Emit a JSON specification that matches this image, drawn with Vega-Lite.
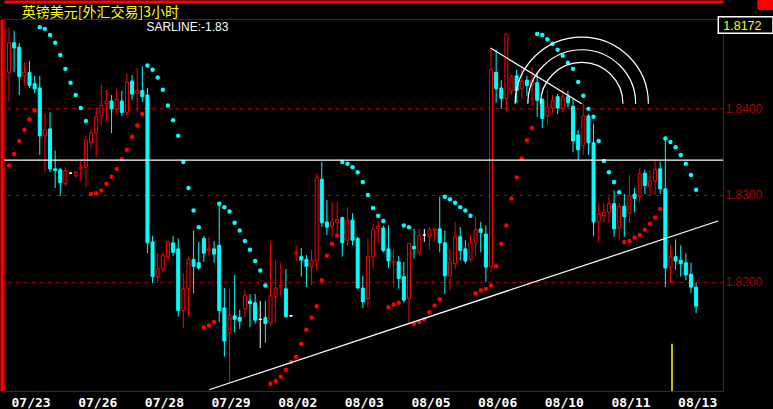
{
  "$schema": "https://vega.github.io/schema/vega-lite/v6.json",
  "width": 719,
  "height": 372,
  "autosize": {"type": "none"},
  "padding": {"left": 4, "top": 19, "right": 50, "bottom": 18},
  "background": "#000000",
  "config": {
    "view": {"stroke": "#a00000", "strokeWidth": 1},
    "axis": {"grid": false, "ticks": false, "domain": false}
  },
  "datasets": {
    "bars": [
      {"i":0,"o":1.8441,"h":1.8493,"l":1.8407,"c":1.8475,"t":"up","s":1.8334,"st":"up"},
      {"i":1,"o":1.8475,"h":1.8489,"l":1.8441,"c":1.8469,"t":"down","s":1.8347,"st":"up"},
      {"i":2,"o":1.8470,"h":1.8475,"l":1.8415,"c":1.8436,"t":"down","s":1.8362,"st":"up"},
      {"i":3,"o":1.8437,"h":1.8453,"l":1.8426,"c":1.8441,"t":"up","s":1.8375,"st":"up"},
      {"i":4,"o":1.8441,"h":1.8454,"l":1.8423,"c":1.8426,"t":"down","s":1.8387,"st":"up"},
      {"i":5,"o":1.8428,"h":1.8437,"l":1.8417,"c":1.8422,"t":"down","s":1.8397,"st":"up"},
      {"i":6,"o":1.8423,"h":1.8437,"l":1.8346,"c":1.8368,"t":"down","s":1.8493,"st":"down"},
      {"i":7,"o":1.8368,"h":1.8394,"l":1.8326,"c":1.8375,"t":"up","s":1.8491,"st":"down"},
      {"i":8,"o":1.8376,"h":1.8395,"l":1.8326,"c":1.8330,"t":"down","s":1.8484,"st":"down"},
      {"i":9,"o":1.8330,"h":1.8351,"l":1.8308,"c":1.8328,"t":"down","s":1.8475,"st":"down"},
      {"i":10,"o":1.8329,"h":1.8331,"l":1.8299,"c":1.8314,"t":"down","s":1.8461,"st":"down"},
      {"i":11,"o":1.8313,"h":1.8332,"l":1.8310,"c":1.8328,"t":"up","s":1.8445,"st":"down"},
      {"i":12,"o":1.8325,"h":1.8326,"l":1.8324,"c":1.8325,"t":"doji","s":1.8429,"st":"down"},
      {"i":13,"o":1.8322,"h":1.8328,"l":1.8320,"c":1.8326,"t":"up","s":1.8415,"st":"down"},
      {"i":14,"o":1.8330,"h":1.8340,"l":1.8315,"c":1.8332,"t":"up","s":1.8400,"st":"down"},
      {"i":15,"o":1.8332,"h":1.8368,"l":1.8309,"c":1.8363,"t":"up","s":1.8385,"st":"down"},
      {"i":16,"o":1.8360,"h":1.8376,"l":1.8353,"c":1.8371,"t":"up","s":1.8301,"st":"up"},
      {"i":17,"o":1.8371,"h":1.8400,"l":1.8344,"c":1.8390,"t":"up","s":1.8302,"st":"up"},
      {"i":18,"o":1.8391,"h":1.8428,"l":1.8380,"c":1.8403,"t":"up","s":1.8305,"st":"up"},
      {"i":19,"o":1.8405,"h":1.8421,"l":1.8384,"c":1.8408,"t":"up","s":1.8313,"st":"up"},
      {"i":20,"o":1.8408,"h":1.8415,"l":1.8371,"c":1.8399,"t":"down","s":1.8321,"st":"up"},
      {"i":21,"o":1.8399,"h":1.8422,"l":1.8394,"c":1.8410,"t":"up","s":1.8330,"st":"up"},
      {"i":22,"o":1.8408,"h":1.8420,"l":1.8391,"c":1.8395,"t":"down","s":1.8341,"st":"up"},
      {"i":23,"o":1.8395,"h":1.8440,"l":1.8390,"c":1.8430,"t":"up","s":1.8352,"st":"up"},
      {"i":24,"o":1.8431,"h":1.8438,"l":1.8409,"c":1.8416,"t":"down","s":1.8367,"st":"up"},
      {"i":25,"o":1.8417,"h":1.8446,"l":1.8395,"c":1.8420,"t":"up","s":1.8380,"st":"up"},
      {"i":26,"o":1.8420,"h":1.8448,"l":1.8407,"c":1.8413,"t":"down","s":1.8393,"st":"up"},
      {"i":27,"o":1.8415,"h":1.8423,"l":1.8233,"c":1.8245,"t":"down","s":1.8449,"st":"down"},
      {"i":28,"o":1.8246,"h":1.8253,"l":1.8199,"c":1.8206,"t":"down","s":1.8444,"st":"down"},
      {"i":29,"o":1.8206,"h":1.8233,"l":1.8199,"c":1.8215,"t":"up","s":1.8435,"st":"down"},
      {"i":30,"o":1.8215,"h":1.8234,"l":1.8211,"c":1.8231,"t":"up","s":1.8421,"st":"down"},
      {"i":31,"o":1.8229,"h":1.8248,"l":1.8224,"c":1.8246,"t":"up","s":1.8403,"st":"down"},
      {"i":32,"o":1.8245,"h":1.8253,"l":1.8230,"c":1.8234,"t":"down","s":1.8386,"st":"down"},
      {"i":33,"o":1.8238,"h":1.8250,"l":1.8160,"c":1.8167,"t":"down","s":1.8368,"st":"down"},
      {"i":34,"o":1.8167,"h":1.8210,"l":1.8147,"c":1.8192,"t":"up","s":1.8338,"st":"down"},
      {"i":35,"o":1.8192,"h":1.8229,"l":1.8160,"c":1.8226,"t":"up","s":1.8308,"st":"down"},
      {"i":36,"o":1.8226,"h":1.8259,"l":1.8187,"c":1.8218,"t":"down","s":1.8282,"st":"down"},
      {"i":37,"o":1.8222,"h":1.8246,"l":1.8214,"c":1.8216,"t":"down","s":1.8263,"st":"down"},
      {"i":38,"o":1.8250,"h":1.8253,"l":1.8223,"c":1.8233,"t":"down","s":1.8148,"st":"up"},
      {"i":39,"o":1.8236,"h":1.8252,"l":1.8230,"c":1.8238,"t":"up","s":1.8150,"st":"up"},
      {"i":40,"o":1.8238,"h":1.8247,"l":1.8222,"c":1.8232,"t":"down","s":1.8154,"st":"up"},
      {"i":41,"o":1.8242,"h":1.8290,"l":1.8154,"c":1.8167,"t":"down","s":1.8290,"st":"down"},
      {"i":42,"o":1.8170,"h":1.8193,"l":1.8114,"c":1.8132,"t":"down","s":1.8286,"st":"down"},
      {"i":43,"o":1.8141,"h":1.8192,"l":1.8084,"c":1.8162,"t":"up","s":1.8281,"st":"down"},
      {"i":44,"o":1.8161,"h":1.8208,"l":1.8142,"c":1.8157,"t":"down","s":1.8268,"st":"down"},
      {"i":45,"o":1.8159,"h":1.8168,"l":1.8146,"c":1.8155,"t":"down","s":1.8259,"st":"down"},
      {"i":46,"o":1.8169,"h":1.8191,"l":1.8159,"c":1.8184,"t":"up","s":1.8247,"st":"down"},
      {"i":47,"o":1.8178,"h":1.8186,"l":1.8148,"c":1.8175,"t":"down","s":1.8237,"st":"down"},
      {"i":48,"o":1.8176,"h":1.8186,"l":1.8152,"c":1.8156,"t":"down","s":1.8224,"st":"down"},
      {"i":49,"o":1.8157,"h":1.8178,"l":1.8124,"c":1.8157,"t":"doji","s":1.8213,"st":"down"},
      {"i":50,"o":1.8159,"h":1.8178,"l":1.8130,"c":1.8152,"t":"down","s":1.8196,"st":"down"},
      {"i":51,"o":1.8153,"h":1.8246,"l":1.8150,"c":1.8184,"t":"up","s":1.8083,"st":"up"},
      {"i":52,"o":1.8183,"h":1.8225,"l":1.8153,"c":1.8193,"t":"up","s":1.8086,"st":"up"},
      {"i":53,"o":1.8194,"h":1.8222,"l":1.8183,"c":1.8196,"t":"up","s":1.8091,"st":"up"},
      {"i":54,"o":1.8192,"h":1.8215,"l":1.8159,"c":1.8160,"t":"down","s":1.8099,"st":"up"},
      {"i":55,"o":1.8161,"h":1.8162,"l":1.8160,"c":1.8161,"t":"doji","s":1.8108,"st":"up"},
      {"i":56,"o":1.8233,"h":1.8242,"l":1.8224,"c":1.8234,"t":"up","s":1.8114,"st":"up"},
      {"i":57,"o":1.8229,"h":1.8239,"l":1.8206,"c":1.8225,"t":"down","s":1.8129,"st":"up"},
      {"i":58,"o":1.8226,"h":1.8231,"l":1.8194,"c":1.8218,"t":"down","s":1.8145,"st":"up"},
      {"i":59,"o":1.8217,"h":1.8237,"l":1.8196,"c":1.8225,"t":"up","s":1.8159,"st":"up"},
      {"i":60,"o":1.8224,"h":1.8324,"l":1.8214,"c":1.8320,"t":"up","s":1.8172,"st":"up"},
      {"i":61,"o":1.8318,"h":1.8338,"l":1.8263,"c":1.8268,"t":"down","s":1.8202,"st":"up"},
      {"i":62,"o":1.8269,"h":1.8294,"l":1.8254,"c":1.8263,"t":"down","s":1.8230,"st":"up"},
      {"i":63,"o":1.8264,"h":1.8292,"l":1.8252,"c":1.8269,"t":"up","s":1.8244,"st":"up"},
      {"i":64,"o":1.8268,"h":1.8292,"l":1.8252,"c":1.8272,"t":"up","s":1.8253,"st":"up"},
      {"i":65,"o":1.8274,"h":1.8275,"l":1.8229,"c":1.8245,"t":"down","s":1.8338,"st":"down"},
      {"i":66,"o":1.8248,"h":1.8286,"l":1.8242,"c":1.8271,"t":"up","s":1.8336,"st":"down"},
      {"i":67,"o":1.8271,"h":1.8279,"l":1.8242,"c":1.8248,"t":"down","s":1.8332,"st":"down"},
      {"i":68,"o":1.8250,"h":1.8252,"l":1.8192,"c":1.8193,"t":"down","s":1.8326,"st":"down"},
      {"i":69,"o":1.8193,"h":1.8207,"l":1.8170,"c":1.8177,"t":"down","s":1.8315,"st":"down"},
      {"i":70,"o":1.8181,"h":1.8250,"l":1.8171,"c":1.8229,"t":"up","s":1.8300,"st":"down"},
      {"i":71,"o":1.8229,"h":1.8267,"l":1.8215,"c":1.8260,"t":"up","s":1.8285,"st":"down"},
      {"i":72,"o":1.8261,"h":1.8270,"l":1.8245,"c":1.8264,"t":"up","s":1.8276,"st":"down"},
      {"i":73,"o":1.8262,"h":1.8265,"l":1.8234,"c":1.8236,"t":"down","s":1.8270,"st":"down"},
      {"i":74,"o":1.8238,"h":1.8265,"l":1.8216,"c":1.8224,"t":"down","s":1.8171,"st":"up"},
      {"i":75,"o":1.8222,"h":1.8237,"l":1.8194,"c":1.8224,"t":"up","s":1.8174,"st":"up"},
      {"i":76,"o":1.8223,"h":1.8230,"l":1.8192,"c":1.8204,"t":"down","s":1.8176,"st":"up"},
      {"i":77,"o":1.8206,"h":1.8223,"l":1.8176,"c":1.8179,"t":"down","s":1.8265,"st":"down"},
      {"i":78,"o":1.8181,"h":1.8245,"l":1.8152,"c":1.8244,"t":"up","s":1.8263,"st":"down"},
      {"i":79,"o":1.8241,"h":1.8261,"l":1.8227,"c":1.8238,"t":"down","s":1.8152,"st":"up"},
      {"i":80,"o":1.8234,"h":1.8261,"l":1.8230,"c":1.8253,"t":"up","s":1.8154,"st":"up"},
      {"i":81,"o":1.8254,"h":1.8261,"l":1.8246,"c":1.8254,"t":"doji","s":1.8157,"st":"up"},
      {"i":82,"o":1.8252,"h":1.8263,"l":1.8237,"c":1.8260,"t":"up","s":1.8165,"st":"up"},
      {"i":83,"o":1.8259,"h":1.8262,"l":1.8247,"c":1.8261,"t":"up","s":1.8173,"st":"up"},
      {"i":84,"o":1.8261,"h":1.8298,"l":1.8234,"c":1.8245,"t":"down","s":1.8180,"st":"up"},
      {"i":85,"o":1.8245,"h":1.8259,"l":1.8186,"c":1.8207,"t":"down","s":1.8298,"st":"down"},
      {"i":86,"o":1.8207,"h":1.8238,"l":1.8191,"c":1.8222,"t":"up","s":1.8295,"st":"down"},
      {"i":87,"o":1.8221,"h":1.8269,"l":1.8214,"c":1.8252,"t":"up","s":1.8291,"st":"down"},
      {"i":88,"o":1.8252,"h":1.8263,"l":1.8225,"c":1.8236,"t":"down","s":1.8286,"st":"down"},
      {"i":89,"o":1.8238,"h":1.8248,"l":1.8221,"c":1.8224,"t":"down","s":1.8282,"st":"down"},
      {"i":90,"o":1.8226,"h":1.8254,"l":1.8223,"c":1.8245,"t":"up","s":1.8276,"st":"down"},
      {"i":91,"o":1.8245,"h":1.8275,"l":1.8229,"c":1.8260,"t":"up","s":1.8187,"st":"up"},
      {"i":92,"o":1.8261,"h":1.8269,"l":1.8234,"c":1.8257,"t":"down","s":1.8190,"st":"up"},
      {"i":93,"o":1.8255,"h":1.8265,"l":1.8200,"c":1.8217,"t":"down","s":1.8192,"st":"up"},
      {"i":94,"o":1.8218,"h":1.8469,"l":1.8211,"c":1.8444,"t":"up","s":1.8196,"st":"up"},
      {"i":95,"o":1.8441,"h":1.8467,"l":1.8406,"c":1.8422,"t":"down","s":1.8218,"st":"up"},
      {"i":96,"o":1.8423,"h":1.8432,"l":1.8399,"c":1.8411,"t":"down","s":1.8244,"st":"up"},
      {"i":97,"o":1.8411,"h":1.8486,"l":1.8395,"c":1.8485,"t":"up","s":1.8265,"st":"up"},
      {"i":98,"o":1.8420,"h":1.8438,"l":1.8415,"c":1.8436,"t":"up","s":1.8296,"st":"up"},
      {"i":99,"o":1.8437,"h":1.8444,"l":1.8406,"c":1.8420,"t":"down","s":1.8320,"st":"up"},
      {"i":100,"o":1.8422,"h":1.8446,"l":1.8411,"c":1.8431,"t":"up","s":1.8342,"st":"up"},
      {"i":101,"o":1.8432,"h":1.8437,"l":1.8414,"c":1.8426,"t":"down","s":1.8363,"st":"up"},
      {"i":102,"o":1.8426,"h":1.8447,"l":1.8402,"c":1.8432,"t":"up","s":1.8377,"st":"up"},
      {"i":103,"o":1.8429,"h":1.8441,"l":1.8390,"c":1.8409,"t":"down","s":1.8485,"st":"down"},
      {"i":104,"o":1.8410,"h":1.8411,"l":1.8377,"c":1.8388,"t":"down","s":1.8484,"st":"down"},
      {"i":105,"o":1.8391,"h":1.8421,"l":1.8380,"c":1.8401,"t":"up","s":1.8479,"st":"down"},
      {"i":106,"o":1.8400,"h":1.8415,"l":1.8394,"c":1.8409,"t":"up","s":1.8474,"st":"down"},
      {"i":107,"o":1.8413,"h":1.8416,"l":1.8393,"c":1.8400,"t":"down","s":1.8467,"st":"down"},
      {"i":108,"o":1.8400,"h":1.8423,"l":1.8395,"c":1.8413,"t":"up","s":1.8460,"st":"down"},
      {"i":109,"o":1.8413,"h":1.8420,"l":1.8401,"c":1.8406,"t":"down","s":1.8452,"st":"down"},
      {"i":110,"o":1.8402,"h":1.8411,"l":1.8349,"c":1.8362,"t":"down","s":1.8445,"st":"down"},
      {"i":111,"o":1.8369,"h":1.8375,"l":1.8340,"c":1.8352,"t":"down","s":1.8430,"st":"down"},
      {"i":112,"o":1.8357,"h":1.8406,"l":1.8346,"c":1.8391,"t":"up","s":1.8414,"st":"down"},
      {"i":113,"o":1.8391,"h":1.8393,"l":1.8346,"c":1.8360,"t":"down","s":1.8399,"st":"down"},
      {"i":114,"o":1.8360,"h":1.8382,"l":1.8253,"c":1.8269,"t":"down","s":1.8390,"st":"down"},
      {"i":115,"o":1.8269,"h":1.8291,"l":1.8245,"c":1.8278,"t":"up","s":1.8362,"st":"down"},
      {"i":116,"o":1.8276,"h":1.8291,"l":1.8268,"c":1.8280,"t":"up","s":1.8339,"st":"down"},
      {"i":117,"o":1.8280,"h":1.8298,"l":1.8268,"c":1.8290,"t":"up","s":1.8326,"st":"down"},
      {"i":118,"o":1.8290,"h":1.8305,"l":1.8252,"c":1.8261,"t":"down","s":1.8315,"st":"down"},
      {"i":119,"o":1.8262,"h":1.8291,"l":1.8249,"c":1.8287,"t":"up","s":1.8303,"st":"down"},
      {"i":120,"o":1.8287,"h":1.8301,"l":1.8252,"c":1.8275,"t":"down","s":1.8246,"st":"up"},
      {"i":121,"o":1.8279,"h":1.8323,"l":1.8268,"c":1.8299,"t":"up","s":1.8247,"st":"up"},
      {"i":122,"o":1.8301,"h":1.8308,"l":1.8280,"c":1.8296,"t":"down","s":1.8251,"st":"up"},
      {"i":123,"o":1.8298,"h":1.8331,"l":1.8291,"c":1.8324,"t":"up","s":1.8254,"st":"up"},
      {"i":124,"o":1.8325,"h":1.8329,"l":1.8301,"c":1.8311,"t":"down","s":1.8260,"st":"up"},
      {"i":125,"o":1.8310,"h":1.8329,"l":1.8300,"c":1.8316,"t":"up","s":1.8267,"st":"up"},
      {"i":126,"o":1.8316,"h":1.8341,"l":1.8300,"c":1.8329,"t":"up","s":1.8274,"st":"up"},
      {"i":127,"o":1.8330,"h":1.8338,"l":1.8301,"c":1.8307,"t":"down","s":1.8284,"st":"up"},
      {"i":128,"o":1.8307,"h":1.8365,"l":1.8194,"c":1.8216,"t":"down","s":1.8365,"st":"down"},
      {"i":129,"o":1.8217,"h":1.8242,"l":1.8199,"c":1.8229,"t":"up","s":1.8361,"st":"down"},
      {"i":130,"o":1.8229,"h":1.8249,"l":1.8214,"c":1.8224,"t":"down","s":1.8355,"st":"down"},
      {"i":131,"o":1.8225,"h":1.8242,"l":1.8206,"c":1.8221,"t":"down","s":1.8346,"st":"down"},
      {"i":132,"o":1.8222,"h":1.8233,"l":1.8202,"c":1.8208,"t":"down","s":1.8336,"st":"down"},
      {"i":133,"o":1.8209,"h":1.8222,"l":1.8187,"c":1.8194,"t":"down","s":1.8323,"st":"down"},
      {"i":134,"o":1.8194,"h":1.8199,"l":1.8164,"c":1.8172,"t":"down","s":1.8306,"st":"down"}
    ],
    "lines": [
      {"name":"support","i":39.04,"p":1.8076},
      {"name":"support","i":138.27,"p":1.8270},
      {"name":"fan","i":93.9,"p":1.8469},
      {"name":"fan","i":111.7,"p":1.8405}
    ],
    "arcs": [
      {"i":111.7,"p":1.8405,"ratio":0.382},
      {"i":111.7,"p":1.8405,"ratio":0.5},
      {"i":111.7,"p":1.8405,"ratio":0.618}
    ]
  },
  "layer": [
    {
      "data": {"name": "bars"},
      "mark": {"type": "rule", "strokeWidth": 1},
      "encoding": {
        "x": {
          "field": "i", "type": "quantitative",
          "scale": {"domain": [0, 138.27], "nice": false, "zero": false},
          "axis": {
            "orient": "bottom",
            "values": [0, 13, 26, 39, 52, 65, 78, 91, 104, 117, 130],
            "labelExpr": "['07/23','07/26','07/28','07/29','08/02','08/03','08/05','08/06','08/10','08/11','08/13'][round(datum.value/13)]",
            "labelAlign": "left", "labelOffset": 2, "labelBaseline": "top",
            "labelColor": "#ffffff", "labelFont": "DejaVu Sans Mono", "labelFontWeight": "bold",
            "labelFontSize": 13, "labelPadding": 5, "labelOverlap": false, "labelFlush": false,
            "ticks": false, "domain": false, "grid": false, "title": null
          }
        },
        "y": {
          "field": "h", "type": "quantitative",
          "scale": {"domain": [1.807455, 1.850235], "nice": false, "zero": false},
          "axis": {
            "orient": "right", "values": [1.82, 1.83, 1.84], "format": ".4f",
            "labelColor": "#b00000", "labelFont": "Liberation Sans", "labelFontSize": 12,
            "labelPadding": 2, "labelBaseline": "middle",
            "ticks": false, "domain": false, "grid": true,
            "gridColor": "#b00000", "gridDash": [4, 4], "gridWidth": 1, "title": null
          }
        },
        "y2": {"field": "l"},
        "color": {
          "field": "t", "type": "nominal",
          "scale": {"domain": ["up", "down", "doji"], "range": ["#ff0000", "#00ffff", "#ffffff"]},
          "legend": null
        }
      }
    },
    {
      "data": {"name": "bars"},
      "mark": {"type": "bar", "width": 3, "strokeWidth": 1},
      "encoding": {
        "x": {
          "field": "i", "type": "quantitative",
          "axis": {"orient": "top", "offset": 17.5, "domain": true, "domainColor": "#ff0000", "domainWidth": 3, "labels": false, "ticks": false, "grid": false, "title": null}
        },
        "y": {
          "field": "o", "type": "quantitative",
          "axis": {"orient": "left", "offset": 2.5, "domain": true, "domainColor": "#ff0000", "domainWidth": 3, "labels": false, "ticks": false, "grid": false, "title": null}
        },
        "y2": {"field": "c"},
        "fill": {
          "field": "t", "type": "nominal",
          "scale": {"domain": ["up", "down", "doji"], "range": ["#000000", "#00ffff", "#ffffff"]},
          "legend": null
        },
        "stroke": {
          "field": "t", "type": "nominal",
          "scale": {"domain": ["up", "down", "doji"], "range": ["#ff0000", "#00ffff", "#ffffff"]},
          "legend": null
        }
      }
    },
    {
      "data": {"name": "bars"},
      "mark": {"type": "point", "filled": true, "shape": "circle", "size": 20, "opacity": 1},
      "encoding": {
        "x": {"field": "i", "type": "quantitative", "axis": null},
        "y": {"field": "s", "type": "quantitative", "axis": null},
        "color": {"field": "st", "type": "nominal", "legend": null}
      }
    },
    {
      "data": {"values": [{}]},
      "mark": {"type": "rule", "color": "#ffffff", "strokeWidth": 1.2},
      "encoding": {
        "y": {"datum": 1.8340, "type": "quantitative", "axis": null}
      }
    },
    {
      "data": {"name": "lines"},
      "mark": {"type": "line", "color": "#ffffff", "strokeWidth": 1.2},
      "encoding": {
        "x": {"field": "i", "type": "quantitative", "axis": null},
        "y": {"field": "p", "type": "quantitative", "axis": null},
        "detail": {"field": "name"}
      }
    },
    {
      "data": {"name": "arcs"},
      "mark": {"type": "arc", "theta": -1.5708, "theta2": 1.5708, "fillOpacity": 0, "stroke": "#ffffff", "strokeWidth": 1.2},
      "encoding": {
        "x": {"field": "i", "type": "quantitative", "axis": null},
        "y": {"field": "p", "type": "quantitative", "axis": null},
        "radius": {"field": "ratio", "type": "quantitative", "scale": {"type": "linear", "domain": [0, 1], "range": [0, 107.8], "zero": true}},
        "radius2": {"field": "ratio"}
      }
    },
    {
      "data": {"values": [{}]},
      "mark": {"type": "rule", "color": "#ffff00", "strokeWidth": 1.5},
      "encoding": {
        "x": {"datum": 129.3, "type": "quantitative", "axis": null},
        "y": {"datum": 1.8129, "type": "quantitative", "axis": null},
        "y2": {"datum": 1.807455}
      }
    },
    {
      "data": {"values": [{}]},
      "mark": {"type": "text", "text": "英镑美元[外汇交易]3小时", "color": "#ffff00", "font": "Noto Sans CJK SC", "fontSize": 14, "align": "left", "baseline": "alphabetic"},
      "encoding": {
        "x": {"datum": 2.5, "type": "quantitative", "axis": null},
        "y": {"datum": 1.8505, "type": "quantitative", "axis": null}
      }
    },
    {
      "data": {"values": [{}]},
      "mark": {"type": "text", "text": "SARLINE:-1.83", "color": "#ffffff", "font": "Liberation Sans", "fontSize": 12, "align": "left", "baseline": "alphabetic"},
      "encoding": {
        "x": {"datum": 26.8, "type": "quantitative", "axis": null},
        "y": {"datum": 1.8489, "type": "quantitative", "axis": null}
      }
    },
    {
      "data": {"values": [{}]},
      "mark": {"type": "rect", "fill": "#000000", "stroke": "#ffffff", "strokeWidth": 1.5},
      "encoding": {
        "x": {"datum": 138.33, "type": "quantitative", "axis": null},
        "x2": {"datum": 149},
        "y": {"datum": 1.8505, "type": "quantitative", "axis": null},
        "y2": {"datum": 1.8486}
      }
    },
    {
      "data": {"values": [{}]},
      "mark": {"type": "rect", "fill": "#ff0000"},
      "encoding": {
        "x": {"datum": 145.96, "type": "quantitative", "axis": null},
        "x2": {"datum": 149},
        "y": {"datum": 1.85242, "type": "quantitative", "axis": null},
        "y2": {"datum": 1.85127}
      }
    },
    {
      "data": {"name": "bars"},
      "transform": [{"filter": "datum.i == 134"}],
      "mark": {"type": "text", "color": "#ffff00", "font": "Liberation Sans", "fontSize": 12.5, "align": "left", "baseline": "alphabetic"},
      "encoding": {
        "x": {"datum": 139.3, "type": "quantitative", "axis": null},
        "y": {"datum": 1.8490, "type": "quantitative", "axis": null},
        "text": {"field": "c", "type": "quantitative", "format": ".4f"}
      }
    }
  ]
}
